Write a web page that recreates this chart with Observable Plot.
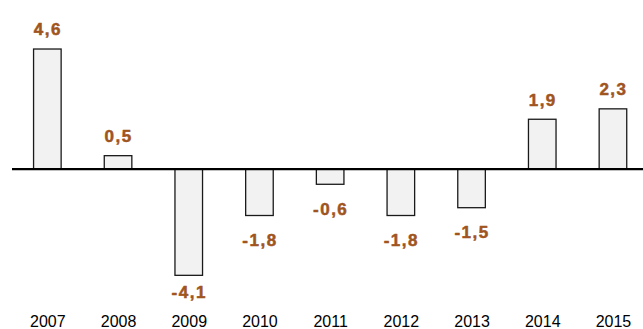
<!DOCTYPE html>
<html>
<head>
<meta charset="utf-8">
<script src="https://cdn.jsdelivr.net/npm/d3@7"></script>
<script src="https://cdn.jsdelivr.net/npm/@observablehq/plot@0.6"></script>
<style>
  html, body { margin: 0; padding: 0; background: #fff; }
  #chart svg { display: block; }
</style>
</head>
<body>
<div id="chart"></div>
<script>
const years = ["2007", "2008", "2009", "2010", "2011", "2012", "2013", "2014", "2015"];
const values = [4.6, 0.5, -4.1, -1.8, -0.6, -1.8, -1.5, 1.9, 2.3];
const labels = ["4,6", "0,5", "-4,1", "-1,8", "-0,6", "-1,8", "-1,5", "1,9", "2,3"];

const data = years.map((year, i) => ({year, value: values[i], label: labels[i]}));

const labelColor = "#a0541e";
const font = "Liberation Sans, Arial, Helvetica, sans-serif";

const chart = Plot.plot({
  width: 643,
  height: 329,
  marginTop: 10,
  marginBottom: 30,
  marginLeft: 12,
  marginRight: 0,
  style: {fontFamily: font, background: "#fff", overflow: "visible"},
  x: {type: "band", domain: years, range: [12, 648.3], paddingInner: 0.61, paddingOuter: 0.305, round: false, label: null},
  y: {domain: [-5.01, 6.10], axis: null},
  marks: [
    Plot.barY(data, {x: "year", y: "value", fill: "#f2f2f2", stroke: "#1a1a1a", strokeWidth: 1.3}),
    Plot.ruleY([0], {stroke: "#000", strokeWidth: 2.2}),
    Plot.text(data.filter(d => d.value >= 0), {
      x: "year", y: "value", text: "label", dy: -19.5,
      fill: labelColor, stroke: labelColor, strokeWidth: 0.5,
      fontWeight: 700, fontSize: 17, className: "vlabel"
    }),
    Plot.text(data.filter(d => d.value < 0), {
      x: "year", y: d => Math.max(d.value, -3.8), text: "label", dy: 24.5,
      fill: labelColor, stroke: labelColor, strokeWidth: 0.5,
      fontWeight: 700, fontSize: 17, className: "vlabel"
    }),
    Plot.axisX({tickSize: 0, tickPadding: 16, fontSize: 16, fill: "#000", label: null})
  ]
});

chart.querySelectorAll(".vlabel text").forEach(t => {
  t.style.letterSpacing = "1.5px";
  t.style.fontWeight = "700";
});
document.getElementById("chart").appendChild(chart);
</script>
</body>
</html>
